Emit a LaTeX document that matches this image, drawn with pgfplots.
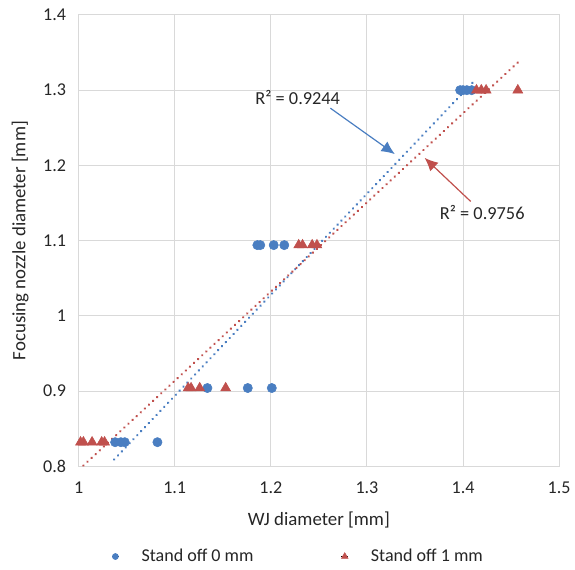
\documentclass[border=0pt]{standalone}
\usepackage{pgfplots}
\pgfplotsset{compat=1.18}
\usetikzlibrary{arrows.meta}
\usepackage{fontspec}
\setmainfont{Carlito}
\definecolor{sblue}{HTML}{4A7EC1}
\definecolor{sred}{HTML}{C0504D}
\definecolor{gridc}{HTML}{D9D9D9}
\definecolor{txt}{HTML}{262626}
\begin{document}
\begin{tikzpicture}
\begin{axis}[
  scale only axis,
  width=362pt, height=340pt,
  xmin=1, xmax=1.5, ymin=0.8, ymax=1.4,
  xtick={1,1.1,1.2,1.3,1.4,1.5},
  ytick={0.8,0.9,1,1.1,1.2,1.3,1.4},
  /pgf/number format/assume math mode=true,
  /pgf/number format/fixed,
  grid=major,
  major grid style={gridc, line width=0.8pt},
  axis line style={gridc, line width=0.8pt},
  major tick length=0pt,
  tick label style={font=\fontsize{13.6}{16}\selectfont, text=txt},
  xticklabel style={yshift=-8pt},
  yticklabel style={xshift=-6pt},
  xlabel={WJ diameter [mm]},
  ylabel={Focusing nozzle diameter [mm]},
  label style={font=\fontsize{14.2}{17}\selectfont, text=txt},
  xlabel style={at={([yshift=-40.5pt]rel axis cs:0.5,0)}, anchor=center},
  ylabel style={at={([xshift=-44pt]rel axis cs:0,0.5)}, anchor=center},
  clip=false,
  legend columns=2,
  legend style={draw=none, at={(0.458,-0.2)}, anchor=center,
    font=\fontsize{13.6}{16}\selectfont, text=txt,
    /tikz/every even column/.append style={column sep=64pt},
    /tikz/every odd column/.append style={column sep=15pt}},
  legend image code/.code={\path (-2.5pt,0pt) -- (2.5pt,0pt); \draw[#1] plot coordinates {(0pt,0pt)};},
]
\path (rel axis cs:-0.1636,-0.2185) rectangle (rel axis cs:1.0269,1.0331);
% Stand off 0 mm
\addplot[only marks, mark=*, mark size=3.5pt, mark options={fill=sblue, draw=sblue},
  legend image post style={mark size=2.3pt}] coordinates {
(1.038,0.832) (1.044,0.832) (1.048,0.832) (1.082,0.832)
(1.134,0.904) (1.176,0.904) (1.201,0.904)
(1.186,1.094) (1.189,1.094) (1.203,1.094) (1.214,1.094)
(1.397,1.3) (1.400,1.3) (1.404,1.3) (1.409,1.3)
};
\addlegendentry{Stand off 0 mm}
% Stand off 1 mm
\addplot[only marks, mark=triangle*, mark size=4.3pt, mark options={fill=sred, draw=sred},
  legend image post style={mark size=2.9pt}] coordinates {
(1.002,0.832) (1.005,0.832) (1.014,0.832) (1.024,0.832) (1.027,0.832)
(1.114,0.904) (1.117,0.904) (1.126,0.904) (1.153,0.904)
(1.229,1.094) (1.233,1.094) (1.243,1.094) (1.248,1.094)
(1.414,1.3) (1.419,1.3) (1.424,1.3) (1.457,1.3)
};
\addlegendentry{Stand off 1 mm}
% trend lines
\addplot[sblue, line width=2pt, dash pattern=on 0.01pt off 4.2pt, line cap=round, forget plot] coordinates {(1.037,0.809) (1.413,1.314)};
\addplot[sred, line width=2pt, dash pattern=on 0.01pt off 4.2pt, line cap=round, forget plot] coordinates {(1.005,0.801) (1.458,1.338)};
% annotations
\node[font=\fontsize{13.8}{16}\selectfont, text=txt] at (axis cs:1.228,1.290) {R² = 0.9244};
\draw[sblue, line width=0.9pt, -{Latex[length=10pt,width=9pt]}] (axis cs:1.262,1.276) -- (axis cs:1.329,1.215);
\node[font=\fontsize{13.8}{16}\selectfont, text=txt] at (axis cs:1.420,1.138) {R² = 0.9756};
\draw[sred, line width=0.9pt, -{Latex[length=10pt,width=9pt]}] (axis cs:1.408,1.152) -- (axis cs:1.360,1.210);
\end{axis}
\end{tikzpicture}
\end{document}
